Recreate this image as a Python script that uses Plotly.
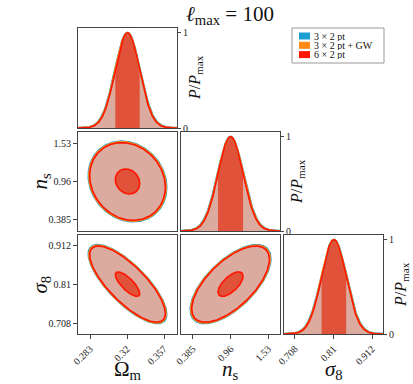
import numpy as np
import plotly.graph_objects as go

# Forecast probes, drawn in this order (last one is filled)
probes = ["3 × 2 pt", "3 × 2 pt + GW", "6 × 2 pt"]
probe_colors = ["#1a9fd0", "#ff8a14", "#ff1500"]
probe_scale = [1.03, 1.015, 1.0]   # contour size relative to 6x2pt

# Parameters, fiducials and 1-sigma errors (6x2pt)
param_labels = ["Ω<sub>m</sub>", "<i>n</i><sub>s</sub>", "<i>σ</i><sub>8</sub>"]
fiducial = [0.3205, 0.958, 0.811]
sigma = [0.0122, 0.19, 0.0325]
corr = {(0, 1): -0.15, (0, 2): -0.77, (1, 2): 0.65}
contour_levels = [1.0, 3.1]

tick_vals = [[0.283, 0.32, 0.357], [0.385, 0.96, 1.53], [0.708, 0.81, 0.912]]
tick_text = [["0.283", "0.32", "0.357"], ["0.385", "0.96", "1.53"], ["0.708", "0.81", "0.912"]]
axis_ranges = [[0.271, 0.370], [0.207, 1.708], [0.679, 0.941]]

light_fill = "#dcab9f"
dark_fill = "#e0523a"
serif = "Liberation Serif"
W, H = 413, 384

col_px = [(78, 177), (181, 280), (284, 383)]
row_px = [(28, 128), (132, 231), (235, 334)]


def gauss(x, m, s):
    return np.exp(-0.5 * ((x - m) / s) ** 2)


def ellipse(i, j, k, scale):
    t = np.linspace(0, 2 * np.pi, 300)
    rho = corr[(i, j)]
    sx, sy = sigma[i] * scale, sigma[j] * scale
    x = fiducial[i] + k * sx * np.cos(t)
    y = fiducial[j] + k * sy * (rho * np.cos(t) + np.sqrt(1 - rho ** 2) * np.sin(t))
    return x, y


def px(x, y):
    # pixel -> paper coordinates
    return x / W, 1 - y / H


def note(x, y, text, size, angle=0, xanchor="center", **kw):
    ax, ay = px(x, y)
    return dict(x=ax, y=ay, xref="paper", yref="paper", showarrow=False, text=text,
                textangle=angle, xanchor=xanchor, yanchor="middle",
                font=dict(family=serif, size=size, color="#111"), **kw)


fig = go.Figure()
layout = {}
annotations = []
shapes = []
cells = [(0, 0), (1, 0), (2, 0), (1, 1), (2, 1), (2, 2)]

for n, (row, col) in enumerate(cells, start=1):
    xa, ya = "x%d" % n, "y%d" % n
    xkey = "xaxis" if n == 1 else "xaxis%d" % n
    ykey = "yaxis" if n == 1 else "yaxis%d" % n
    xl, yb = px(col_px[col][0], row_px[row][1])
    xr, yt = px(col_px[col][1], row_px[row][0])

    frame = dict(showline=True, mirror=True, linecolor="#444", linewidth=1.2,
                 showgrid=False, zeroline=False, ticks="", showticklabels=False,
                 automargin=False, fixedrange=True,
                 tickfont=dict(family=serif, size=10, color="#222"))

    xaxis = dict(frame, domain=[xl, xr], range=axis_ranges[col], anchor=ya,
                 tickvals=tick_vals[col], ticktext=tick_text[col])
    if row == 2:
        xaxis.update(ticks="outside", ticklen=4, tickcolor="#444",
                     showticklabels=True, tickangle=-45)
    layout[xkey] = xaxis

    if row == col:
        # 1D marginal
        m, s = fiducial[col], sigma[col]
        x = np.linspace(axis_ranges[col][0], axis_ranges[col][1], 400)
        fig.add_trace(go.Scatter(x=x, y=gauss(x, m, s), xaxis=xa, yaxis=ya, mode="lines",
                                 line=dict(width=0), fill="tozeroy", fillcolor=light_fill,
                                 showlegend=False, hoverinfo="skip"))
        xin = np.linspace(m - s, m + s, 100)
        fig.add_trace(go.Scatter(x=xin, y=gauss(xin, m, s), xaxis=xa, yaxis=ya, mode="lines",
                                 line=dict(width=0), fill="tozeroy", fillcolor=dark_fill,
                                 showlegend=False, hoverinfo="skip"))
        for name, c, sc, w in zip(probes, probe_colors, probe_scale, [2.2, 2.0, 1.6]):
            fig.add_trace(go.Scatter(x=x, y=gauss(x, m, s * sc), xaxis=xa, yaxis=ya,
                                     mode="lines", line=dict(color=c, width=w),
                                     showlegend=False, hoverinfo="skip"))
        layout[ykey] = dict(frame, domain=[yb, yt], range=[0, 1.05], anchor=xa, side="right",
                            tickvals=[0, 1], ticktext=["0", "1"], ticks="outside",
                            ticklen=3, tickcolor="#444", showticklabels=True)
        annotations.append(note(col_px[col][1] + 18, row_px[row][0] + 50,
                                "<i>P</i>/<i>P</i><sub>max</sub>", 16, angle=-90))
    else:
        # 2D contours
        for name, c, sc in zip(probes[:2], probe_colors[:2], probe_scale[:2]):
            for k in contour_levels:
                ex, ey = ellipse(col, row, k, sc)
                fig.add_trace(go.Scatter(x=ex, y=ey, xaxis=xa, yaxis=ya, mode="lines",
                                         line=dict(color=c, width=2.2), showlegend=False,
                                         hoverinfo="skip"))
        for k, fc in zip(contour_levels[::-1], [light_fill, dark_fill]):
            ex, ey = ellipse(col, row, k, probe_scale[2])
            fig.add_trace(go.Scatter(x=ex, y=ey, xaxis=xa, yaxis=ya, mode="lines",
                                     line=dict(color=probe_colors[2], width=1.6),
                                     fill="toself", fillcolor=fc, showlegend=False,
                                     hoverinfo="skip"))
        yaxis = dict(frame, domain=[yb, yt], range=axis_ranges[row], anchor=xa,
                     tickvals=tick_vals[row], ticktext=tick_text[row])
        if col == 0:
            yaxis.update(ticks="outside", ticklen=4, tickcolor="#444", showticklabels=True)
        layout[ykey] = yaxis

# axis titles
for col in range(3):
    annotations.append(note(sum(col_px[col]) / 2, 370, param_labels[col], 21))
for row in (1, 2):
    annotations.append(note(40, sum(row_px[row]) / 2, param_labels[row], 21, angle=-90))

# legend box drawn by hand to keep its compact spacing
x0, y0 = px(292, 28)
x1, y1 = px(384, 63)
shapes.append(dict(type="rect", xref="paper", yref="paper", x0=x0, y0=y0, x1=x1, y1=y1,
                   line=dict(color="#999", width=1), fillcolor="white", layer="above"))
for i, (name, c) in enumerate(zip(probes, probe_colors)):
    yc = 36 + 9.3 * i
    sx0, sy0 = px(299, yc - 3.5)
    sx1, sy1 = px(310, yc + 3.5)
    shapes.append(dict(type="rect", xref="paper", yref="paper", x0=sx0, y0=sy0, x1=sx1,
                       y1=sy1, line=dict(width=0), fillcolor=c, layer="above"))
    annotations.append(note(313, yc, name, 10, xanchor="left", height=9, borderpad=0))

annotations.append(note(230, 15, "<i>ℓ</i><sub>max</sub> = 100", 21))

fig.update_layout(
    width=W, height=H, margin=dict(l=0, r=0, t=0, b=0),
    plot_bgcolor="white", paper_bgcolor="white", showlegend=False,
    annotations=annotations, shapes=shapes,
    **layout,
)

# drop the default page margin so the figure sits at the window corner
fig.write_html("out.html", config={"displayModeBar": False},
               post_script="document.body.style.margin = '0';")
